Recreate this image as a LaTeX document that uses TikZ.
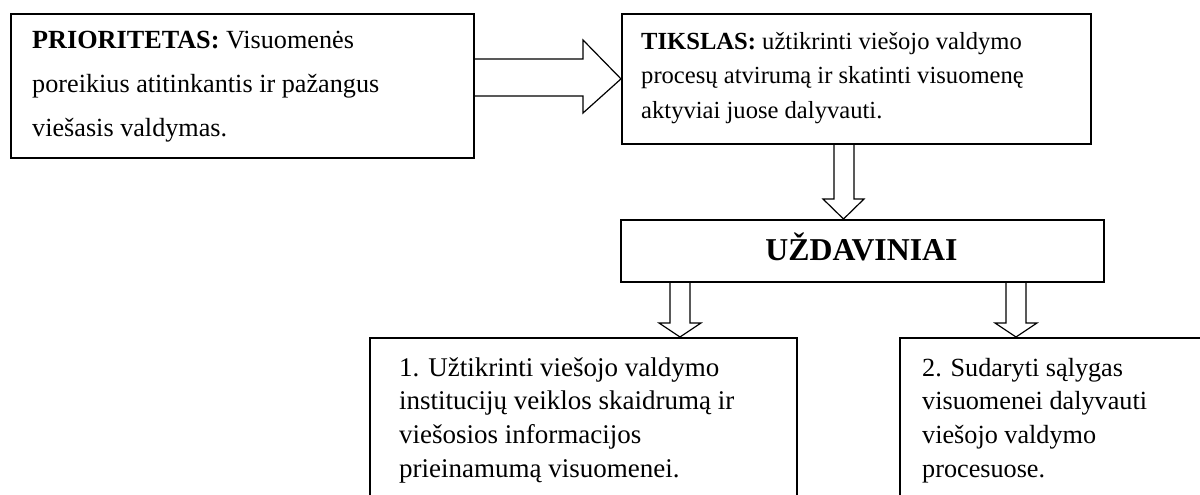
\documentclass[tikz,border=0pt]{standalone}
\usepackage{fontspec}
\setmainfont{Liberation Serif}
\usetikzlibrary{calc}
\begin{document}
\begin{tikzpicture}[x=1pt,y=-1pt,
  box/.style={draw, line width=1.8pt, inner sep=0pt, anchor=north west},
  blockarr/.style={draw, line width=1.2pt, line join=miter},
  txt/.style={anchor=base west, inner sep=0pt, align=left}]
\useasboundingbox (0,0) rectangle (1200,495);
\clip (0,0) rectangle (1200,495);
% boxes
\node[box, minimum width=463pt, minimum height=144pt] (prio) at (10,13) {};
\node[box, minimum width=469pt, minimum height=130pt] (tiks) at (621,13) {};
\node[box, minimum width=483pt, minimum height=62pt] (udz) at (620,219) {};
\node[box, minimum width=427pt, minimum height=200pt] (box1) at (369,337) {};
\node[box, minimum width=330pt, minimum height=200pt] (box2) at (899,337) {};
% texts (base anchor = baseline of the last line)
\node[txt, font=\fontsize{26.2}{44.2}\selectfont] (prioT) at (32,136.7)
  {\textbf{PRIORITETAS:} Visuomenės\\poreikius atitinkantis ir pažangus\\viešasis valdymas.};
\node[txt, font=\fontsize{24.6}{34.5}\selectfont] (tiksT) at (641,118.3)
  {\textbf{TIKSLAS:} užtikrinti viešojo valdymo\\procesų atvirumą ir skatinti visuomenę\\aktyviai juose dalyvauti.};
\node[anchor=base, inner sep=0pt, font=\bfseries\fontsize{31.8}{36}\selectfont] (udzT) at (861.5,260) {UŽDAVINIAI};
\node[txt, font=\fontsize{27}{33.7}\selectfont] (box1T) at (399,477.1)
  {1. Užtikrinti viešojo valdymo\\institucijų veiklos skaidrumą ir\\viešosios informacijos\\prieinamumą visuomenei.};
\node[txt, font=\fontsize{26.2}{33.7}\selectfont] (box2T) at (922,477.1)
  {2. Sudaryti sąlygas\\visuomenei dalyvauti\\viešojo valdymo\\procesuose.};
% block arrows
\draw[blockarr] (prio.east |- 0,59) -- (583,59) -- (583,40) -- (tiks.west) -- (583,113) -- (583,96) -- (prio.east |- 0,96);
\draw[blockarr] (tiks.south -| 834,0) -- (834,199) -- (823,199) -- (udz.north -| 843.5,0) -- (864,199) -- (854,199) -- (tiks.south -| 854,0);
\draw[blockarr] (udz.south -| 670,0) -- (670,323) -- (659,323) -- (box1.north -| 680,0) -- (701,323) -- (690,323) -- (udz.south -| 690,0);
\draw[blockarr] (udz.south -| 1006,0) -- (1006,323) -- (995,323) -- (box2.north -| 1016,0) -- (1037,323) -- (1026,323) -- (udz.south -| 1026,0);
\end{tikzpicture}
\end{document}
